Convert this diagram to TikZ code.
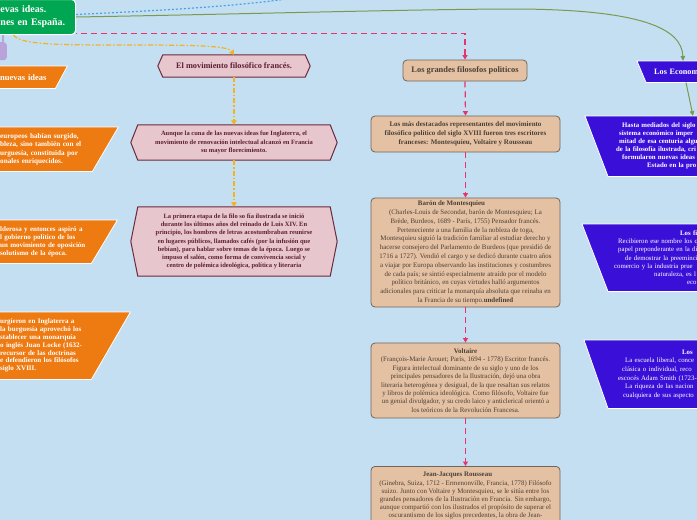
\documentclass[tikz,border=0pt]{standalone}
\usepackage{fontspec}
\setmainfont{Liberation Serif}
\usetikzlibrary{arrows.meta,calc}
\pgfdeclarelayer{bg}
\pgfdeclarelayer{mid}
\pgfsetlayers{bg,mid,main}
\definecolor{bgblue}{HTML}{C4DFF1}
\definecolor{rootgreen}{HTML}{00A651}
\definecolor{lavender}{HTML}{B9A3D8}
\definecolor{orfill}{HTML}{EE7A12}
\definecolor{hexfill}{HTML}{E7C6CD}
\definecolor{hexline}{HTML}{6B2A3C}
\definecolor{hextext}{HTML}{5E1F33}
\definecolor{tanfill}{HTML}{E4C1A2}
\definecolor{tanline}{HTML}{6E665C}
\definecolor{tantext}{HTML}{4A3F37}
\definecolor{bfill}{HTML}{3A10D8}
\definecolor{pinkline}{HTML}{E8336D}
\definecolor{dotblue}{HTML}{45A6E6}
\definecolor{oliveline}{HTML}{7A9A50}
\definecolor{ordash}{HTML}{F5B21B}
\newcommand\fs[2]{\fontsize{#1}{#2}\selectfont}
\newcommand\Lline[2]{\hspace*{#1pt}\makebox[0pt][l]{#2}}
\tikzset{
 rootbox/.style={rounded corners=4pt, fill=rootgreen, draw=white, line width=1pt, inner xsep=0pt, inner ysep=0pt, align=left, text=white, font=\fs{10}{13}\bfseries},
 purplebox/.style={rounded corners=3pt, fill=lavender, draw=none},
 purplelink/.style={draw=lavender, line width=2pt},
 orbox/.style={inner xsep=0pt, inner ysep=0pt, align=left, text=white, font=\fs{7.2}{8.3}\bfseries},
 orshape/.style={fill=orfill, draw=white, line width=0.8pt},
 hexbox/.style={inner sep=0pt, align=center, text=hextext},
 hexshape/.style={fill=hexfill, draw=hexline, line width=1pt},
 tanbox/.style={rounded corners=4pt, fill=tanfill, draw=tanline, line width=0.8pt, align=center, text=tantext, inner sep=3pt},
 bbox/.style={inner xsep=0pt, inner ysep=0pt, align=left, text=white},
 bshape/.style={fill=bfill, draw=white, line width=0.8pt},
 pinkc/.style={draw=pinkline, line width=1.2pt, dash pattern=on 6pt off 4pt},
 pinktip/.style={-{Triangle[length=4.5pt,width=5pt]}},
 orc/.style={draw=ordash, line width=1.2pt, dash pattern=on 5pt off 2pt on 1.5pt off 2pt},
 ortip/.style={-{Triangle[length=4.5pt,width=5.5pt]}},
 bluec/.style={draw=dotblue, line width=1.2pt, dash pattern=on 2pt off 2pt},
 olivec/.style={draw=oliveline, line width=1pt},
 olivetip/.style={-{Triangle[length=5pt,width=4.5pt]}}
}
\begin{document}
\begin{tikzpicture}[x=1pt,y=-1pt]
\begin{pgfonlayer}{bg}
\fill[bgblue] (0,0) rectangle (697,520);
\end{pgfonlayer}
\useasboundingbox (0,0) rectangle (697,520);

% root
\node[rootbox, anchor=north west, text width=115pt, minimum height=35pt] (root) at (-40,-1)
 {\Lline{40}{evas ideas.}\\\Lline{40}{nes en España.}};
\node[purplebox, anchor=north east, minimum width=20pt, minimum height=18pt] (pur) at (7,42) {};
\draw[purplelink] ([xshift=6pt]pur.north) -- ([xshift=6pt]pur.north |- root.south);

% orange boxes (left)
\node[orbox, anchor=north west, text width=75pt, minimum height=22pt, font=\fs{8.5}{9}\bfseries] (oA) at (-20,66)
 {\Lline{20}{nuevas ideas}};
\node[orbox, anchor=north west, text width=112pt, minimum height=44pt] (oB) at (-20,127)
 {\Lline{20}{europeos habían surgido,}\\\Lline{20}{bleza, sino también con el}\\\Lline{20}{urguesía, constituida por}\\\Lline{20}{onales enriquecidos.}};
\node[orbox, anchor=north west, text width=111pt, minimum height=43pt, font=\fs{7}{7.8}\bfseries] (oC) at (-20,220)
 {\Lline{20}{lderosa y entonces aspiró a}\\\Lline{20}{l gobierno político de los}\\\Lline{20}{un movimiento de oposición}\\\Lline{20}{solutismo de la época.}};
\node[orbox, anchor=north west, text width=111pt, minimum height=67pt, font=\fs{7}{7.8}\bfseries] (oD) at (-20,312)
 {\Lline{20}{urgieron en Inglaterra a}\\\Lline{20}{la burguesía aprovechó los}\\\Lline{20}{stablecer una monarquía}\\\Lline{20}{o inglés Juan Locke (1632-}\\\Lline{20}{recursor de las doctrinas}\\\Lline{20}{e defendieron los filósofos}\\\Lline{20}{siglo XVIII.}};

% hexagons
\node[hexbox, minimum width=142pt, minimum height=22pt, font=\fs{8.3}{9}\bfseries] (hA) at (234,66) {El movimiento filosófico francés.};
\node[hexbox, minimum width=192pt, minimum height=35pt, font=\fs{6.5}{8.5}\bfseries] (hB) at (234,142.5)
 {Aunque la cuna de las nuevas ideas fue Inglaterra, el\\movimiento de renovación intelectual alcanzó en Francia\\su mayor florecimiento.};
\node[hexbox, minimum width=192pt, minimum height=69pt, font=\fs{6.5}{8.2}\bfseries] (hC) at (234,241.5)
 {La primera etapa de la filo so fía ilustrada se inició\\durante los últimos años del reinado de Luis XIV. En\\principio, los hombres de letras acostumbraban reunirse\\en lugares públicos, llamados cafés (por la infusión que\\bebían), para hablar sobre temas de la época. Luego se\\impuso el salón, como forma de convivencia social y\\centro de polémica ideológica, política y literaria};

% tan boxes
\node[tanbox, minimum width=124pt, minimum height=21pt, font=\fs{8.4}{9}\bfseries] (t0) at (465,70.5) {Los grandes filosofos politicos};
\node[tanbox, minimum width=189pt, minimum height=36pt, font=\fs{7}{9}\bfseries] (t1) at (465.5,134)
 {Los más destacados representantes del movimiento\\filosófico político del siglo XVIII fueron tres escritores\\franceses: Montesquieu, Voltaire y Rousseau};
\node[tanbox, minimum width=189pt, minimum height=105pt, font=\fs{6.9}{8.8}] (t2) at (465.5,252.5)
 {\textbf{Barón de Montesquieu}\hspace*{28pt}\\(Charles-Louis de Secondat, barón de Montesquieu; La\\Brède, Burdeos, 1689 - París, 1755) Pensador francés.\\Perteneciente a una familia de la nobleza de toga,\\Montesquieu siguió la tradición familiar al estudiar derecho y\\hacerse consejero del Parlamento de Burdeos (que presidió de\\1716 a 1727). Vendió el cargo y se dedicó durante cuatro años\\a viajar por Europa observando las instituciones y costumbres\\de cada país; se sintió especialmente atraído por el modelo\\político británico, en cuyas virtudes halló argumentos\\adicionales para criticar la monarquía absoluta que reinaba en\\la Francia de su tiempo.\textbf{undefined}};
\node[tanbox, minimum width=189pt, minimum height=75pt, font=\fs{6.9}{8.4}] (t3) at (465.5,380.5)
 {\textbf{Voltaire}\\(François-Marie Arouet; París, 1694 - 1778) Escritor francés.\\Figura intelectual dominante de su siglo y uno de los\\principales pensadores de la Ilustración, dejó una obra\\literaria heterogénea y desigual, de la que resaltan sus relatos\\y libros de polémica ideológica. Como filósofo, Voltaire fue\\un genial divulgador, y su credo laico y anticlerical orientó a\\los teóricos de la Revolución Francesa.};
\node[tanbox, anchor=north, minimum width=189pt, inner ysep=6pt, font=\fs{6.9}{8.2}] (t4) at (465.5,466)
 {\textbf{Jean-Jacques Rousseau}\hspace*{16pt}\\(Ginebra, Suiza, 1712 - Ermenonville, Francia, 1778) Filósofo\\suizo. Junto con Voltaire y Montesquieu, se le sitúa entre los\\grandes pensadores de la Ilustración en Francia. Sin embargo,\\aunque compartió con los ilustrados el propósito de superar el\\oscurantismo de los siglos precedentes, la obra de Jean-};

% blue boxes (right)
\node[bbox, anchor=north west, text width=114pt, minimum height=21pt, font=\fs{8.2}{9}\bfseries] (bH) at (646,61)
 {\Lline{8}{Los Econom}};
\node[bbox, anchor=north west, text width=152pt, minimum height=60pt, font=\fs{6.8}{8}\bfseries] (b1) at (608,116)
 {\Lline{14}{Hasta mediados del siglo}\\\Lline{11}{sistema económico imper}\\\Lline{11}{mitad de esa centuria algu}\\\Lline{8}{de la filosofía ilustrada, cri}\\\Lline{14}{formularon nuevas ideas}\\\Lline{39}{Estado en la pro}};
\node[bbox, anchor=north west, text width=152pt, minimum height=67pt, font=\fs{6.8}{8.2}] (b2) at (608,224)
 {\Lline{72}{\textbf{Los fi}}\\\Lline{10}{Recibieron ese nombre los q}\\\Lline{10}{papel preponderante en la di}\\\Lline{17}{de demostrar la preeminci}\\\Lline{6}{comercio y la industria prue}\\\Lline{46}{naturaleza, es l}\\\Lline{79}{eco}};
\node[bbox, anchor=north west, text width=152pt, minimum height=68pt, font=\fs{6.8}{8.6}] (b3) at (608,340)
 {\Lline{74}{\textbf{Los}}\\\Lline{17}{La escuela liberal, conce}\\\Lline{14}{clásica o individual, reco}\\\Lline{10}{escocés Adam Smith (1723-}\\\Lline{17}{La riqueza de las nacion}\\\Lline{15}{cualquiera de sus aspecto}};

% shapes behind texts
\begin{pgfonlayer}{mid}
\foreach \n/\d in {oA/12,oB/26,oC/26,oD/39}
 \path[orshape] (\n.north west) -- ([xshift=\d pt]\n.north east) -- (\n.south east) -- (\n.south west) -- cycle;
\path[hexshape] (hA.north west) -- (hA.north east) -- ([xshift=5pt]hA.east) -- (hA.south east) -- (hA.south west) -- ([xshift=-5pt]hA.west) -- cycle;
\foreach \n in {hB,hC}
 \path[hexshape] (\n.north west) -- (\n.north east) -- ([xshift=7pt]\n.east) -- (\n.south east) -- (\n.south west) -- ([xshift=-7pt]\n.west) -- cycle;
\foreach \n/\d in {bH/9,b1/23,b2/26,b3/24}
 \path[bshape] ([xshift=-\d pt]\n.north west) -- (\n.north east) -- (\n.south east) -- (\n.south west) -- cycle;
\end{pgfonlayer}

% connectors
\coordinate (bluefar) at (320,-6);
\draw[bluec] ([yshift=2.5pt]root.east) .. controls (170,10) and (250,6) .. (bluefar);
\draw[olivec, olivetip] (root.east) .. controls (250,14) and (420,9) .. (520,9) .. controls (640,10) and (682,28) .. ([xshift=37pt]bH.north west);
\draw[olivec, olivetip] ([xshift=40pt]bH.south west) -- ([xshift=85pt]b1.north west);
\draw[pinkc, {Triangle[length=4.5pt,width=5pt]}-] (t0.north) |- ([yshift=-16.5pt]root.east);
\draw[orc, ortip] ([xshift=-4.5pt]root.south) .. controls (20,45) and (60,45) .. (130,45) .. controls (200,45) and (228,46) .. (hA.north);
\draw[orc, ortip] (hA.south) -- (hB.north);
\draw[orc, ortip] (hB.south) -- (hC.north);
\draw[pinkc, pinktip] (t0.south) -- (t1.north);
\draw[pinkc, pinktip] (t1.south) -- (t2.north);
\draw[pinkc, pinktip] (t2.south) -- (t3.north);
\draw[pinkc, pinktip] (t3.south) -- (t4.north);
\end{tikzpicture}
\end{document}
